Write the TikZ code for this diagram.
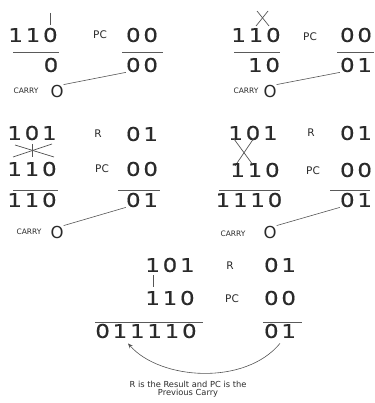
\documentclass[tikz,border=0pt]{standalone}
\usepackage{fontspec}
\setmainfont{DejaVu Sans}
\newfontfamily\digitfont[LetterSpace=15,FakeStretch=1.2,FakeBold=0.6]{DejaVu Sans}
\usetikzlibrary{arrows.meta}
\definecolor{ink}{HTML}{2A2A2A}
\definecolor{rulegray}{HTML}{5A5A5A}
\definecolor{linkgray}{HTML}{555555}
\begin{document}
\begin{tikzpicture}[x=1pt,y=-1pt,
  num/.style={inner sep=0pt,text=ink,font=\digitfont\fontsize{19}{19}\selectfont},
  tag/.style={inner sep=0pt,text=ink,font=\fontsize{10.5}{10.5}\selectfont},
  carrytag/.style={inner sep=0pt,text=ink,font=\fontsize{7.5}{7.5}\selectfont},
  carryo/.style={inner sep=0pt,text=ink,font=\fontsize{16.5}{16.5}\selectfont},
  sumrule/.style={draw=rulegray,line width=1pt},
  strike/.style={draw=linkgray,line width=0.7pt},
  link/.style={draw=linkgray,line width=0.6pt},
  note/.style={inner sep=0pt,text=ink,font=\fontsize{8.3}{8.3}\selectfont}]
\useasboundingbox (0,0) rectangle (374,403);

% ---- step 1: first bit ----
\node[num] (a1) at (33,35) {110};
\draw[strike] (50,13) -- (50,25);
\node[tag] (pc1) at (100,35) {PC};
\node[num] (b1) at (142,35) {00};
\draw[sumrule] (13,53) -- (59,53);
\draw[sumrule] (122,53) -- (163,53);
\node[num] (s1) at (51,65) {0};
\node[num] (r1) at (142,65) {00};
\node[carrytag] (cl1) at (26,91) {CARRY};
\node[carryo] (c1) at (57,91) {O};
\draw[link] (c1.north east) -- (r1.south west);

% ---- step 2: second bit ----
\node[num] (a2) at (256,35) {110};
\draw[strike] (257,11) -- (269,26);
\draw[strike] (268,11) -- (256,26);
\node[tag] (pc2) at (310,37) {PC};
\node[num] (b2) at (356,35) {00};
\draw[sumrule] (234,53) -- (280,53);
\draw[sumrule] (337,53) -- (374,53);
\node[num] (s2) at (264,65) {10};
\node[num] (r2) at (356,65) {01};
\node[carrytag] (cl2) at (246,91) {CARRY};
\node[carryo] (c2) at (270,91) {O};
\draw[link] (c2.north east) -- (r2.south west);

% ---- step 3: third bit ----
\node[num] (a3) at (32,133) {101};
\draw[strike] (13,157) -- (52,144);
\draw[strike] (15,145) -- (54,157);
\draw[strike] (32,144) -- (32,157);
\node[num] (b3) at (32,169) {110};
\node[tag] (rr3) at (98,134) {R};
\node[num] (d3) at (142,134) {01};
\node[tag] (pc3) at (102,169) {PC};
\node[num] (e3) at (142,169) {00};
\draw[sumrule] (13,190) -- (58,190);
\draw[sumrule] (118,190) -- (160,190);
\node[num] (s3) at (32,200) {110};
\node[num] (r3) at (142,200) {01};
\node[carrytag] (cl3) at (29,232) {CARRY};
\node[carryo] (c3) at (57,232) {O};
\draw[link] (c3.north east) -- (r3.south west);

% ---- step 4: fourth bit ----
\node[num] (a4) at (253,133) {101};
\draw[strike] (234,139) -- (253,165);
\draw[strike] (254,138) -- (235,166);
\node[num] (b4) at (255,170) {110};
\node[tag] (rr4) at (311,133) {R};
\node[num] (d4) at (356,133) {01};
\node[tag] (pc4) at (313,171) {PC};
\node[num] (e4) at (356,170) {00};
\draw[sumrule] (219,190) -- (280,190);
\draw[sumrule] (330,190) -- (370,190);
\node[num] (s4) at (249,200) {1110};
\node[num] (r4) at (356,200) {01};
\node[carrytag] (cl4) at (233,234) {CARRY};
\node[carryo] (c4) at (270,232) {O};
\draw[link] (c4.north east) -- (r4.south west);

% ---- step 5: final result ----
\node[num] (a5) at (170,265) {101};
\draw[strike] (153,275) -- (153,287);
\node[num] (b5) at (170,298) {110};
\node[tag] (rr5) at (230,266) {R};
\node[num] (d5) at (280,265) {01};
\node[tag] (pc5) at (232,299) {PC};
\node[num] (e5) at (280,298) {00};
\draw[sumrule] (95,322) -- (203,322);
\draw[sumrule] (263,322) -- (302,322);
\node[num] (s5) at (146,331) {011110};
\node[num] (r5) at (280,331) {01};
\draw[link,-{Stealth[length=5pt,width=4pt]}]
  ([yshift=-5pt]r5.south) .. controls (245,386) and (160,380) .. ([xshift=-18pt,yshift=-5pt]s5.south);

\node[note] (n1) at (188,384) {R is the Result and PC is the};
\node[note] (n2) at (188,393) {Previous Carry};
\end{tikzpicture}
\end{document}
